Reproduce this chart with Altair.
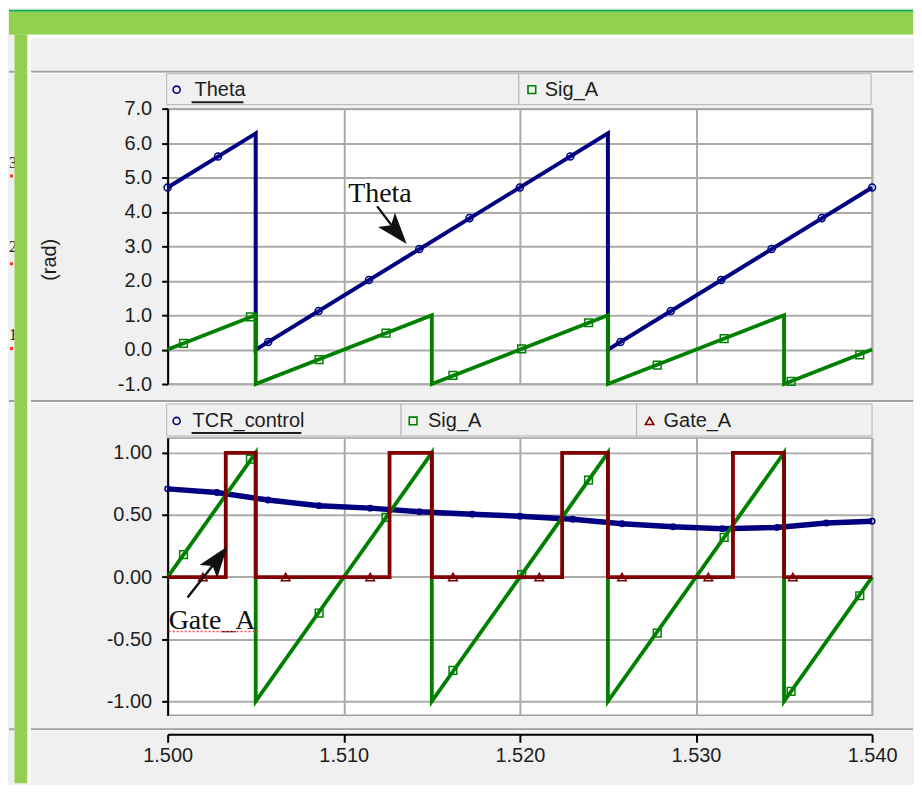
import altair as alt
import pandas as pd

# ---------------- data ----------------
# top panel: Theta (rad) and Sig_A
theta_t = [1.500, 1.505, 1.505, 1.525, 1.525, 1.540]
theta_v = [4.71, 6.28, 0.00, 6.28, 0.00, 4.71]
theta_mk_t = [1.50000, 1.50286, 1.50571, 1.50857, 1.51143, 1.51429, 1.51714, 1.52000,
              1.52286, 1.52571, 1.52857, 1.53143, 1.53429, 1.53714, 1.54000]
theta_mk_v = [4.71, 5.61, 0.22, 1.12, 2.02, 2.92, 3.82, 4.71,
              5.61, 0.22, 1.12, 2.02, 2.92, 3.82, 4.71]

siga_t = [1.500, 1.505, 1.505, 1.515, 1.515, 1.525, 1.525, 1.535, 1.535, 1.540]
siga_v = [0.0, 1.0, -1.0, 1.0, -1.0, 1.0, -1.0, 1.0, -1.0, 0.0]
siga_mk_t = [1.5009, 1.5047, 1.5086, 1.5124, 1.5162, 1.5201, 1.5239, 1.5278, 1.5316, 1.5354, 1.5393]
siga_mk_v = [0.18, 0.95, -0.29, 0.48, -0.75, 0.02, 0.78, -0.45, 0.32, -0.92, -0.15]

# bottom panel: TCR_control, Sig_A, Gate_A
tcr_t = [1.5000, 1.5028, 1.5057, 1.5086, 1.5115, 1.5143, 1.5173, 1.5200,
         1.5230, 1.5258, 1.5287, 1.5315, 1.5346, 1.5374, 1.5400]
tcr_v = [0.71, 0.68, 0.62, 0.575, 0.555, 0.525, 0.505, 0.49,
         0.465, 0.43, 0.405, 0.39, 0.40, 0.435, 0.45]

gate_t = [1.500, 1.5033, 1.5033, 1.505, 1.505, 1.5126, 1.5126, 1.515, 1.515,
          1.5224, 1.5224, 1.525, 1.525, 1.5321, 1.5321, 1.535, 1.535, 1.540]
gate_v = [0, 0, 1, 1, 0, 0, 1, 1, 0, 0, 1, 1, 0, 0, 1, 1, 0, 0]
gate_mk_t = [1.5020, 1.5067, 1.5115, 1.5162, 1.5211, 1.5258, 1.5307, 1.5355]
gate_mk_v = [0, 0, 0, 0, 0, 0, 0, 0]

# axis ticks
x_ticks = [1.50, 1.51, 1.52, 1.53, 1.54]
top_ticks = [-1, 0, 1, 2, 3, 4, 5, 6, 7]
bot_ticks = [-1.0, -0.5, 0.0, 0.5, 1.0]

# annotations (data coordinates)
theta_note = {"t": 1.51025, "v": 4.30, "text": "Theta"}
theta_arrow_t = [1.51190, 1.51300]
theta_arrow_v = [4.16, 3.42]
gate_note = {"t": 1.50006, "v": -0.414, "text": "Gate_A"}
gate_arrow_t = [1.50113, 1.50285]
gate_arrow_v = [-0.165, 0.145]
gate_squiggle_t = [1.50006, 1.50516]
gate_squiggle_v = [-0.438, -0.438]

# ---------------- styling ----------------
NAVY, GREEN, MAROON = "#000080", "#008000", "#800000"
TXT = "#1e1e1e"
UI = "Liberation Sans"
SERIF = "Liberation Serif"
BG = "#f0f0f0"
SEP = "#a0a0a0"
W, H1, H2 = 706, 276, 278
MINUS = "\u2212"

XS = alt.Scale(domain=[1.5, 1.54], nice=False, zero=False)
YS1 = alt.Scale(domain=[-1, 7], nice=False, zero=False)
YS2 = alt.Scale(domain=[-1.112, 1.12], nice=False, zero=False)

x_top_axis = alt.Axis(values=x_ticks, grid=True, labels=False, ticks=False, domain=False, title=None)
y_top_axis = alt.Axis(values=top_ticks, labelExpr=f"replace(format(datum.value, '.1f'), '{MINUS}', '-')",
                      tickSize=6, labelPadding=10, labelFlush=False, title="(rad)", titleAngle=270,
                      titleX=-118, titleY=151, titleAlign="center", titleBaseline="middle")
x_bot_axis = alt.Axis(values=x_ticks, grid=True, labelExpr="format(datum.value, '.3f')", labelFlush=False,
                      tickSize=8, labelPadding=3, offset=19, title=None)
y_bot_axis = alt.Axis(values=bot_ticks, labelExpr=f"replace(format(datum.value, '.2f'), '{MINUS}', '-')",
                      tickSize=6, labelPadding=10, labelFlush=False, title=None)

ONE = pd.DataFrame({"k": [0]})


def rect(x1, x2, y1, y2, fill, opacity=1.0, stroke=None):
    m = dict(fill=fill, opacity=opacity)
    if stroke:
        m.update(stroke=stroke, strokeWidth=1)
    return alt.Chart(ONE).mark_rect(**m).encode(
        x=alt.value(x1), x2=alt.value(x2), y=alt.value(y1), y2=alt.value(y2))


def txt(x, y, s, size=20, font=UI, color=TXT, align="left", baseline="middle"):
    return alt.Chart(ONE).mark_text(text=s, font=font, fontSize=size, color=color,
                                    align=align, baseline=baseline).encode(x=alt.value(x), y=alt.value(y))


def sym(x, y, shape, color, size):
    return alt.Chart(ONE).mark_point(shape=shape, size=size, filled=False, stroke=color,
                                     strokeWidth=1.6, opacity=1).encode(x=alt.value(x), y=alt.value(y))


def series(t, v, color, sw, xa, ya, ys):
    df = pd.DataFrame({"t": t, "v": v, "i": list(range(len(t)))})
    return alt.Chart(df).mark_line(color=color, strokeWidth=sw).encode(
        x=alt.X("t:Q", scale=XS, axis=xa), y=alt.Y("v:Q", scale=ys, axis=ya), order="i:Q")


def markers(t, v, shape, color, size, xa, ya, ys):
    df = pd.DataFrame({"t": t, "v": v})
    return alt.Chart(df).mark_point(shape=shape, size=size, filled=False, stroke=color,
                                    strokeWidth=1.5, opacity=1).encode(
        x=alt.X("t:Q", scale=XS, axis=xa), y=alt.Y("v:Q", scale=ys, axis=ya))


def note(d, size, xa, ya, ys):
    df = pd.DataFrame([d])
    return alt.Chart(df).mark_text(font=SERIF, fontSize=size, color="#111111", align="left",
                                   baseline="alphabetic").encode(
        x=alt.X("t:Q", scale=XS, axis=xa), y=alt.Y("v:Q", scale=ys, axis=ya), text="text:N")


ARROW = "M0,-1L0.7,1L0,0.55L-0.7,1Z"


def arrow(t, v, angle, xa, ya, ys):
    df = pd.DataFrame({"t": t, "v": v, "i": [0, 1]})
    shaft = alt.Chart(df).mark_line(color="#111111", strokeWidth=2.4).encode(
        x=alt.X("t:Q", scale=XS, axis=xa), y=alt.Y("v:Q", scale=ys, axis=ya), order="i:Q")
    head = alt.Chart(df.iloc[[1]]).mark_point(shape=ARROW, size=1000, filled=True, color="#111111",
                                              angle=angle, opacity=1).encode(
        x=alt.X("t:Q", scale=XS, axis=xa), y=alt.Y("v:Q", scale=ys, axis=ya))
    return [shaft, head]


# ---------------- top panel (local origin = plot top-left) ----------------
deco_top = [
    rect(-159, 747, -99, 676, BG, opacity=0),          # overall canvas extent
    rect(-159, 747, -99, -97, "#00b050"),               # dark green band
    rect(-159, 747, -97, -74, "#92d050"),               # light green band
    rect(-139, 747, -74, -71, "white"),
    rect(-159, -153.5, -38, -36, SEP), rect(-137, 747, -38, -36, SEP),
    rect(-137, 747, -36, -35, "white"),
    rect(-159, -153.5, 292, 294, SEP), rect(-137, 747, 292, 294, SEP),
    rect(-137, 747, 294, 295, "white"),
    txt(-159, 54, "3", size=16, font=SERIF), txt(-159, 139, "2", size=16, font=SERIF),
    txt(-159, 227, "1", size=16, font=SERIF),
    rect(-158, -155, 66, 69, "#ff3030"), rect(-158, -155, 154, 157, "#ff3030"),
    rect(-158, -155, 239, 242, "#ff3030"),
    rect(-153.5, -140.5, -74, 676, "#92d050"),          # left green bar
    rect(-140.5, -137, -74, 676, "white"),
    # legend bar
    rect(-1, 352, -35, -4, BG, stroke="#b4b4b4"),
    rect(352, 705, -35, -4, BG, stroke="#b4b4b4"),
    sym(9, -19, "circle", NAVY, 50), txt(27, -19, "Theta"),
    rect(24, 76, -7.5, -5.5, TXT),
    sym(365, -19, "square", GREEN, 60), txt(378, -19, "Sig_A"),
]

top_layers = deco_top + [
    series(theta_t, theta_v, NAVY, 4, x_top_axis, y_top_axis, YS1),
    markers(theta_mk_t, theta_mk_v, "circle", NAVY, 50, x_top_axis, y_top_axis, YS1),
    series(siga_t, siga_v, GREEN, 3.8, x_top_axis, y_top_axis, YS1),
    markers(siga_mk_t, siga_mk_v, "square", GREEN, 60, x_top_axis, y_top_axis, YS1),
    note(theta_note, 28, x_top_axis, y_top_axis, YS1),
] + arrow(theta_arrow_t, theta_arrow_v, 140, x_top_axis, y_top_axis, YS1)

top = alt.layer(*top_layers).properties(width=W, height=H1)

# ---------------- bottom panel ----------------
deco_bot = [
    rect(-1, 234, -34, -2, BG, stroke="#b4b4b4"),
    rect(234, 470, -34, -2, BG, stroke="#b4b4b4"),
    rect(470, 706, -34, -2, BG, stroke="#b4b4b4"),
    sym(9, -17, "circle", NAVY, 50), txt(25, -17, "TCR_control"),
    rect(24, 134, -6, -4, TXT),
    sym(246, -17, "square", GREEN, 60), txt(261, -17, "Sig_A"),
    sym(483, -17, "triangle-up", MAROON, 70), txt(497, -17, "Gate_A"),
    rect(-159, -153.5, 291, 293, SEP), rect(-137, 747, 291, 293, SEP),
    rect(-137, 747, 293, 294, "white"),
]

squig = pd.DataFrame({"t": gate_squiggle_t, "v": gate_squiggle_v})
bot_layers = deco_bot + [
    series(tcr_t, tcr_v, NAVY, 5.5, x_bot_axis, y_bot_axis, YS2),
    markers(tcr_t, tcr_v, "circle", NAVY, 30, x_bot_axis, y_bot_axis, YS2),
    series(siga_t, siga_v, GREEN, 3.8, x_bot_axis, y_bot_axis, YS2),
    markers(siga_mk_t, siga_mk_v, "square", GREEN, 60, x_bot_axis, y_bot_axis, YS2),
    series(gate_t, gate_v, MAROON, 3.8, x_bot_axis, y_bot_axis, YS2),
    markers(gate_mk_t, gate_mk_v, "triangle-up", MAROON, 75, x_bot_axis, y_bot_axis, YS2),
    note(gate_note, 28, x_bot_axis, y_bot_axis, YS2),
    alt.Chart(squig).mark_line(color="#ff4a4a", strokeWidth=1.6, strokeDash=[2, 2]).encode(
        x=alt.X("t:Q", scale=XS, axis=x_bot_axis), y=alt.Y("v:Q", scale=YS2, axis=y_bot_axis)),
] + arrow(gate_arrow_t, gate_arrow_v, 37, x_bot_axis, y_bot_axis, YS2)

bottom = alt.layer(*bot_layers).properties(width=W, height=H2)

chart = alt.vconcat(top, bottom, spacing=54, bounds="flush").properties(
    padding=0
).configure(
    background=BG, font=UI
).configure_view(
    fill="white", stroke=SEP, strokeWidth=1.5
).configure_axis(
    gridColor="#ababab", gridWidth=2, domainColor="#000000", domainWidth=2,
    tickColor="#000000", tickWidth=2, labelFont=UI, labelFontSize=20, labelColor=TXT,
    titleFont=UI, titleFontSize=20, titleFontWeight="normal", titleColor=TXT
)

chart.save("out.html", embed_options={"renderer": "svg", "actions": False})
